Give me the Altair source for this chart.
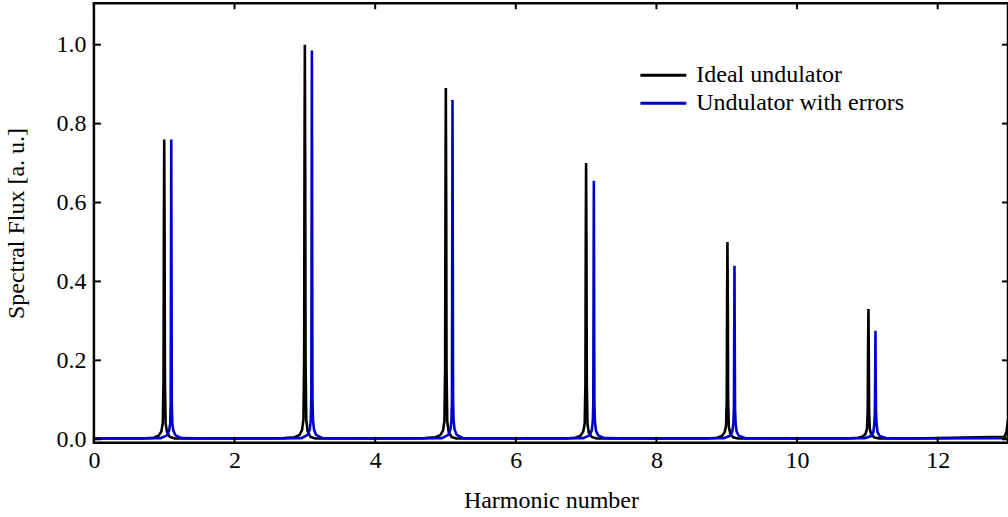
import altair as alt
import pandas as pd

# ---- data ----
ideal_centers = [1.0, 3.0, 5.005, 7.0, 9.01, 11.015]
ideal_offsets = [-0.6, -0.3, -0.15, -0.08, -0.04, -0.02, -0.01, -0.005, 0.0,
                 0.005, 0.01, 0.02, 0.04, 0.08, 0.15, 0.6]
ideal_peaks = [
    [0.002, 0.002, 0.004, 0.009, 0.020, 0.042, 0.15, 0.53, 0.76, 0.53, 0.15, 0.040, 0.018, 0.006, 0.002, 0.002],
    [0.002, 0.003, 0.005, 0.010, 0.023, 0.050, 0.20, 0.70, 1.00, 0.70, 0.20, 0.050, 0.020, 0.006, 0.002, 0.002],
    [0.002, 0.003, 0.005, 0.010, 0.022, 0.046, 0.18, 0.62, 0.89, 0.62, 0.18, 0.045, 0.019, 0.006, 0.002, 0.002],
    [0.002, 0.002, 0.004, 0.009, 0.020, 0.040, 0.14, 0.49, 0.70, 0.49, 0.14, 0.038, 0.016, 0.006, 0.002, 0.002],
    [0.002, 0.002, 0.004, 0.008, 0.017, 0.034, 0.10, 0.35, 0.50, 0.35, 0.10, 0.032, 0.014, 0.005, 0.002, 0.002],
    [0.002, 0.002, 0.004, 0.007, 0.014, 0.028, 0.07, 0.23, 0.33, 0.23, 0.07, 0.026, 0.012, 0.005, 0.002, 0.002],
]
ideal_ends_x = [0.0, 12.95, 12.98, 13.0]
ideal_ends_y = [0.002, 0.006, 0.02, 0.05]

error_centers = [1.1, 3.1, 5.1, 7.11, 9.11, 11.115]
error_offsets = [-0.6, -0.15, -0.06, -0.03, -0.015, -0.008, -0.004, 0.0,
                 0.004, 0.008, 0.015, 0.03, 0.06, 0.15, 0.6]
error_peaks = [
    [0.002, 0.003, 0.010, 0.022, 0.040, 0.09, 0.42, 0.760, 0.42, 0.09, 0.040, 0.022, 0.010, 0.003, 0.002],
    [0.002, 0.003, 0.011, 0.025, 0.050, 0.11, 0.54, 0.985, 0.54, 0.11, 0.050, 0.025, 0.011, 0.003, 0.002],
    [0.002, 0.003, 0.011, 0.024, 0.048, 0.10, 0.47, 0.860, 0.47, 0.10, 0.048, 0.024, 0.011, 0.003, 0.002],
    [0.002, 0.003, 0.010, 0.022, 0.045, 0.09, 0.36, 0.655, 0.36, 0.09, 0.045, 0.022, 0.010, 0.003, 0.002],
    [0.002, 0.003, 0.009, 0.020, 0.042, 0.08, 0.24, 0.440, 0.24, 0.08, 0.042, 0.020, 0.009, 0.003, 0.002],
    [0.002, 0.003, 0.008, 0.018, 0.040, 0.07, 0.15, 0.275, 0.15, 0.07, 0.040, 0.018, 0.008, 0.003, 0.002],
]
error_ends_x = [0.0, 12.98, 13.0]
error_ends_y = [0.002, 0.003, 0.005]

series_names = ["Ideal undulator", "Undulator with errors"]
series_colors = ["#000000", "#0000CC"]

x_ticks = [0, 2, 4, 6, 8, 10, 12]
y_ticks = [0.0, 0.2, 0.4, 0.6, 0.8, 1.0]

# ---- build table ----
rows = []
for cx, ys in zip(ideal_centers, ideal_peaks):
    for o, v in zip(ideal_offsets, ys):
        rows.append({"x": cx + o, "y": v, "s": series_names[0]})
for xv, yv in zip(ideal_ends_x, ideal_ends_y):
    rows.append({"x": xv, "y": yv, "s": series_names[0]})
for cx, ys in zip(error_centers, error_peaks):
    for o, v in zip(error_offsets, ys):
        rows.append({"x": cx + o, "y": v, "s": series_names[1]})
for xv, yv in zip(error_ends_x, error_ends_y):
    rows.append({"x": xv, "y": yv, "s": series_names[1]})
df = pd.DataFrame(rows).sort_values(["s", "x"]).reset_index(drop=True)

W, H = 915, 440
XT = "Harmonic number"
YT = "Spectral Flux [a. u.]"
FS = 24
FONT = "Liberation Serif"
xscale = alt.Scale(domain=[0, 13], nice=False, zero=False)
yscale = alt.Scale(domain=[-0.009, 1.105], nice=False, zero=False)

lines = alt.Chart(df).mark_line(strokeWidth=2.6, clip=True).encode(
    x=alt.X("x:Q", scale=xscale, title=XT,
            axis=alt.Axis(values=x_ticks, ticks=False, domain=False, grid=False,
                          labelPadding=6, titlePadding=16, format="d",
                          labelFlush=False)),
    y=alt.Y("y:Q", scale=yscale, title=YT,
            axis=alt.Axis(values=y_ticks, ticks=False, domain=False, grid=False,
                          labelPadding=8, titlePadding=27, format=".1f",
                          labelFlush=False)),
    color=alt.Color("s:N", scale=alt.Scale(domain=series_names, range=series_colors),
                    legend=None),
    order=alt.Order("x:Q"),
)

xt_df = pd.DataFrame({"t": x_ticks})
yt_df = pd.DataFrame({"t": y_ticks})

bottom_ticks = alt.Chart(xt_df).mark_rule(color="black", strokeWidth=2).encode(
    x=alt.X("t:Q", scale=xscale, title=XT), y=alt.value(H), y2=alt.value(H - 6))
top_ticks = alt.Chart(xt_df).mark_rule(color="black", strokeWidth=2).encode(
    x=alt.X("t:Q", scale=xscale, title=XT), y=alt.value(0), y2=alt.value(6))
left_ticks = alt.Chart(yt_df).mark_rule(color="black", strokeWidth=2).encode(
    y=alt.Y("t:Q", scale=yscale, title=YT), x=alt.value(0), x2=alt.value(7))
right_ticks = alt.Chart(yt_df).mark_rule(color="black", strokeWidth=2).encode(
    y=alt.Y("t:Q", scale=yscale, title=YT), x=alt.value(W), x2=alt.value(W - 6))

# legend drawn by hand
legend_layers = []
legend_rows_y = [72, 100]
for name, col, ry in zip(series_names, series_colors, legend_rows_y):
    ldf = pd.DataFrame({"s": [name]})
    legend_layers.append(
        alt.Chart(ldf).mark_rule(color=col, strokeWidth=3).encode(
            x=alt.value(547), x2=alt.value(593), y=alt.value(ry)))
    legend_layers.append(
        alt.Chart(ldf).mark_text(align="left", baseline="middle", fontSize=FS,
                                 font=FONT, color="black").encode(
            x=alt.value(603), y=alt.value(ry), text="s:N"))

chart = alt.layer(lines, bottom_ticks, top_ticks, left_ticks, right_ticks,
                  *legend_layers).properties(
    width=W, height=H,
    autosize=alt.AutoSizeParams(type="none"),
    padding={"left": 94, "top": 3, "right": 0, "bottom": 74},
).configure(
    font=FONT,
).configure_view(
    stroke="black", strokeWidth=2.5,
).configure_axis(
    labelFontSize=FS, titleFontSize=FS, labelColor="black", titleColor="black",
    titleFontWeight="normal", labelFont=FONT, titleFont=FONT,
)

chart.save("out.html", embed_options={"renderer": "svg", "actions": False})
